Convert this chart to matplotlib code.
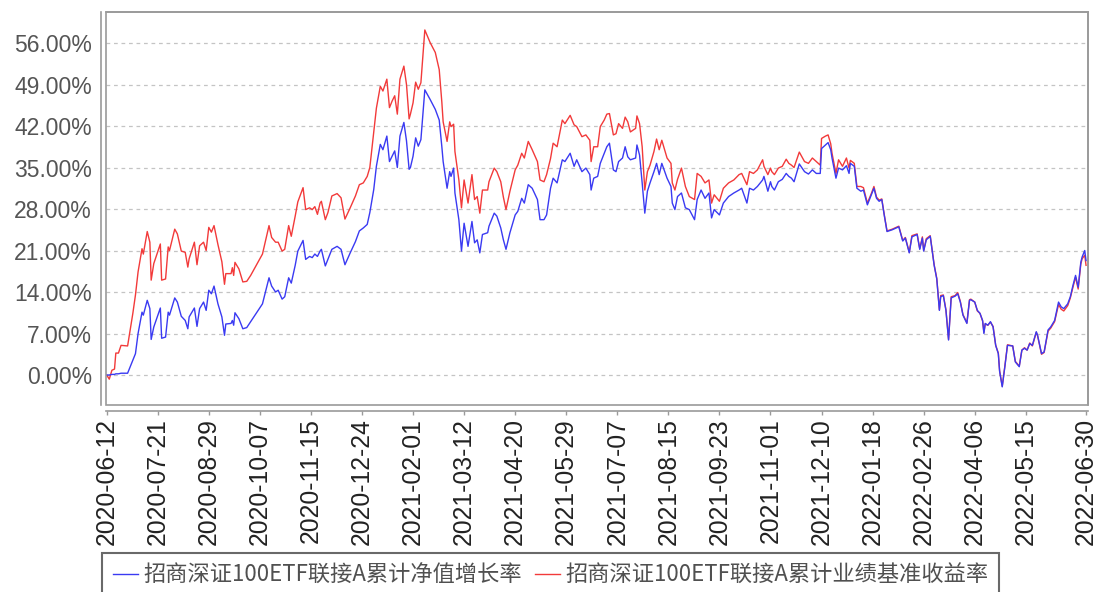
import pandas as pd
import matplotlib
matplotlib.use("Agg")
import matplotlib.pyplot as plt
from matplotlib.patches import Rectangle

# trading dates (sampled from the chart) and cumulative returns in %
dates = [
    "2020-06-12", "2020-06-14", "2020-06-16", "2020-06-18", "2020-06-19", "2020-06-21", "2020-06-23", "2020-06-28",
    "2020-07-02", "2020-07-04", "2020-07-06", "2020-07-09", "2020-07-10", "2020-07-13", "2020-07-15", "2020-07-16",
    "2020-07-18", "2020-07-23", "2020-07-24", "2020-07-27", "2020-07-29", "2020-07-30", "2020-08-03", "2020-08-05",
    "2020-08-08", "2020-08-11", "2020-08-13", "2020-08-14", "2020-08-18", "2020-08-20", "2020-08-22", "2020-08-25",
    "2020-08-27", "2020-08-29", "2020-08-31", "2020-09-02", "2020-09-05", "2020-09-08", "2020-09-10", "2020-09-11",
    "2020-09-15", "2020-09-16", "2020-09-17", "2020-09-18", "2020-09-21", "2020-09-24", "2020-09-27", "2020-09-30",
    "2020-10-09", "2020-10-14", "2020-10-16", "2020-10-19", "2020-10-21", "2020-10-24", "2020-10-26", "2020-10-29",
    "2020-10-31", "2020-11-03", "2020-11-05", "2020-11-09", "2020-11-11", "2020-11-14", "2020-11-16", "2020-11-18",
    "2020-11-20", "2020-11-22", "2020-11-23", "2020-11-26", "2020-11-28", "2020-12-01", "2020-12-05", "2020-12-08",
    "2020-12-11", "2020-12-15", "2020-12-19", "2020-12-22", "2020-12-25", "2020-12-28", "2020-12-30", "2021-01-02",
    "2021-01-04", "2021-01-07", "2021-01-09", "2021-01-12", "2021-01-14", "2021-01-16", "2021-01-18", "2021-01-20",
    "2021-01-22", "2021-01-25", "2021-01-27", "2021-01-29", "2021-01-30", "2021-02-01", "2021-02-03", "2021-02-05",
    "2021-02-07", "2021-02-10", "2021-02-14", "2021-02-18", "2021-02-21", "2021-02-23", "2021-02-24", "2021-02-27",
    "2021-03-01", "2021-03-02", "2021-03-04", "2021-03-05", "2021-03-08", "2021-03-10", "2021-03-12", "2021-03-15",
    "2021-03-18", "2021-03-20", "2021-03-22", "2021-03-24", "2021-03-26", "2021-03-30", "2021-03-31", "2021-04-04",
    "2021-04-06", "2021-04-09", "2021-04-11", "2021-04-13", "2021-04-16", "2021-04-20", "2021-04-22", "2021-04-25",
    "2021-04-27", "2021-04-30", "2021-05-03", "2021-05-07", "2021-05-09", "2021-05-12", "2021-05-14", "2021-05-17",
    "2021-05-19", "2021-05-22", "2021-05-26", "2021-05-28", "2021-06-01", "2021-06-04", "2021-06-06", "2021-06-10",
    "2021-06-13", "2021-06-16", "2021-06-17", "2021-06-19", "2021-06-22", "2021-06-24", "2021-06-27", "2021-06-29",
    "2021-07-01", "2021-07-04", "2021-07-06", "2021-07-08", "2021-07-11", "2021-07-13", "2021-07-15", "2021-07-17",
    "2021-07-21", "2021-07-22", "2021-07-24", "2021-07-26", "2021-07-28", "2021-07-30", "2021-08-01", "2021-08-04",
    "2021-08-06", "2021-08-08", "2021-08-10", "2021-08-14", "2021-08-17", "2021-08-18", "2021-08-20", "2021-08-22",
    "2021-08-25", "2021-08-28", "2021-08-31", "2021-09-04", "2021-09-06", "2021-09-09", "2021-09-12", "2021-09-15",
    "2021-09-17", "2021-09-19", "2021-09-23", "2021-09-26", "2021-09-30", "2021-10-04", "2021-10-08", "2021-10-10",
    "2021-10-14", "2021-10-16", "2021-10-19", "2021-10-22", "2021-10-26", "2021-10-27", "2021-10-30", "2021-11-01",
    "2021-11-02", "2021-11-04", "2021-11-07", "2021-11-10", "2021-11-13", "2021-11-15", "2021-11-17", "2021-11-19",
    "2021-11-23", "2021-11-27", "2021-11-30", "2021-12-03", "2021-12-06", "2021-12-09", "2021-12-10", "2021-12-13",
    "2021-12-15", "2021-12-17", "2021-12-18", "2021-12-21", "2021-12-23", "2021-12-26", "2021-12-29", "2021-12-31",
    "2022-01-01", "2022-01-04", "2022-01-06", "2022-01-09", "2022-01-11", "2022-01-14", "2022-01-17", "2022-01-19",
    "2022-01-21", "2022-01-23", "2022-01-25", "2022-01-27", "2022-01-29", "2022-02-02", "2022-02-07", "2022-02-10",
    "2022-02-12", "2022-02-15", "2022-02-17", "2022-02-21", "2022-02-23", "2022-02-25", "2022-02-26", "2022-02-28",
    "2022-03-03", "2022-03-06", "2022-03-08", "2022-03-10", "2022-03-11", "2022-03-13", "2022-03-15", "2022-03-17",
    "2022-03-19", "2022-03-22", "2022-03-24", "2022-03-26", "2022-03-28", "2022-03-31", "2022-04-02", "2022-04-03",
    "2022-04-06", "2022-04-08", "2022-04-10", "2022-04-12", "2022-04-13", "2022-04-14", "2022-04-16", "2022-04-18",
    "2022-04-20", "2022-04-22", "2022-04-24", "2022-04-25", "2022-04-27", "2022-04-29", "2022-05-01", "2022-05-05",
    "2022-05-07", "2022-05-10", "2022-05-12", "2022-05-14", "2022-05-16", "2022-05-18", "2022-05-20", "2022-05-23",
    "2022-05-24", "2022-05-27", "2022-05-29", "2022-06-01", "2022-06-03", "2022-06-06", "2022-06-09", "2022-06-11",
    "2022-06-13", "2022-06-16", "2022-06-18", "2022-06-20", "2022-06-22", "2022-06-24", "2022-06-26", "2022-06-27",
    "2022-06-29", "2022-06-30",
]

nav_growth = [
    0.0, 0.0, 0.1, 0.1, 0.2, 0.2, 0.3, 0.3,
    2.5, 3.6, 7.0, 10.6, 10.1, 12.6, 11.2, 6.0,
    8.1, 11.3, 6.2, 6.4, 10.6, 10.1, 13.0, 12.3,
    9.9, 9.2, 7.8, 9.8, 11.3, 8.2, 11.2, 12.3,
    10.9, 14.3, 13.7, 15.0, 12.0, 9.8, 6.7, 8.6,
    8.7, 9.2, 8.4, 10.5, 9.5, 7.8, 8.0, 9.0,
    12.0, 16.4, 15.0, 14.0, 14.3, 12.8, 13.2, 16.4,
    15.5, 18.5, 20.9, 22.7, 19.5, 20.0, 19.8, 20.4,
    20.0, 20.9, 21.2, 18.4, 19.5, 21.2, 21.7, 21.2,
    18.6, 20.6, 22.5, 24.3, 24.8, 25.4, 27.4, 31.3,
    35.2, 38.9, 38.0, 40.3, 36.0, 36.9, 37.8, 35.0,
    40.3, 42.6, 39.5, 34.7, 35.0, 36.9, 40.0, 38.6,
    39.7, 48.1, 46.5, 44.8, 43.0, 38.5, 36.0, 31.5,
    34.3, 33.5, 34.9, 30.7, 26.2, 20.9, 25.6, 21.7,
    25.9, 22.3, 22.8, 20.6, 23.7, 24.0, 25.1, 27.3,
    26.8, 24.8, 22.8, 21.2, 24.0, 27.0, 27.6, 29.8,
    29.0, 32.1, 31.5, 29.6, 26.2, 26.2, 27.0, 31.5,
    33.2, 32.4, 36.3, 36.0, 37.4, 35.2, 36.3, 34.3,
    34.9, 33.8, 31.2, 33.2, 33.5, 35.7, 37.4, 38.5,
    39.1, 34.6, 34.3, 36.0, 36.6, 38.5, 36.8, 36.3,
    36.6, 38.8, 37.1, 32.4, 27.3, 31.0, 32.4, 34.3,
    35.7, 33.8, 35.7, 33.2, 31.8, 29.0, 27.9, 30.1,
    30.7, 28.2, 27.9, 26.2, 29.6, 31.2, 29.8, 30.7,
    26.5, 27.9, 27.0, 29.0, 30.1, 30.7, 31.2, 31.5,
    29.0, 31.5, 31.2, 31.8, 32.9, 33.5, 31.0, 32.6,
    31.8, 31.2, 32.6, 33.0, 34.0, 33.5, 33.2, 32.6,
    35.6, 34.3, 33.9, 34.6, 34.0, 34.0, 38.2, 38.8,
    39.2, 38.0, 36.6, 33.2, 34.9, 34.6, 35.3, 34.0,
    35.7, 35.2, 31.5, 31.0, 31.2, 28.7, 30.4, 31.5,
    29.8, 29.3, 29.6, 26.8, 24.2, 24.5, 25.0, 22.6,
    23.1, 20.6, 23.3, 23.7, 21.2, 23.1, 20.9, 22.8,
    23.4, 18.5, 16.2, 10.9, 13.2, 13.4, 10.9, 5.9,
    13.0, 13.3, 13.7, 12.3, 10.1, 8.7, 12.6, 12.7,
    12.3, 10.9, 10.4, 9.2, 7.0, 8.7, 8.4, 9.0,
    8.1, 5.0, 3.6, 0.6, -2.0, 1.4, 5.0, 4.9,
    2.2, 1.4, 4.2, 4.5, 4.2, 5.3, 5.0, 7.3,
    6.7, 3.6, 3.9, 7.6, 8.1, 9.2, 12.3, 11.5,
    11.2, 12.0, 13.2, 15.1, 16.8, 14.8, 19.0, 19.9,
    21.0, 19.3,
]

benchmark = [
    0.0, -0.7, 0.8, 1.0, 3.7, 3.7, 5.0, 4.9,
    10.4, 13.5, 17.4, 21.3, 20.4, 24.2, 22.4, 16.0,
    18.8, 22.1, 16.0, 16.2, 21.6, 21.0, 24.6, 23.8,
    20.9, 20.7, 18.2, 19.6, 22.4, 18.6, 21.8, 22.4,
    21.0, 24.9, 24.1, 25.2, 22.0, 19.1, 15.3, 17.1,
    17.1, 18.1, 16.8, 19.0, 17.9, 15.7, 15.8, 16.8,
    20.4, 25.2, 23.2, 22.4, 22.4, 20.9, 21.2, 25.2,
    23.4, 26.8, 29.2, 31.6, 27.9, 28.2, 27.9, 28.4,
    27.1, 29.0, 29.3, 26.2, 27.4, 30.2, 30.6, 29.9,
    26.3, 28.2, 30.2, 32.1, 32.4, 33.5, 35.0, 40.9,
    45.0, 48.7, 47.9, 49.9, 45.1, 46.2, 47.1, 44.0,
    49.9, 52.1, 49.0, 43.2, 44.0, 45.9, 49.4, 48.2,
    49.3, 58.2, 56.1, 54.4, 51.5, 46.0, 42.7, 39.4,
    42.7, 41.9, 42.3, 37.7, 32.9, 28.2, 32.9, 29.0,
    33.8, 29.6, 30.1, 27.3, 31.2, 31.2, 32.6, 34.9,
    34.3, 32.6, 30.0, 27.9, 31.0, 34.6, 35.4, 37.4,
    36.6, 39.4, 38.0, 36.0, 32.9, 32.6, 33.8, 36.5,
    39.1, 38.5, 43.0, 42.4, 43.8, 42.2, 41.9, 40.2,
    40.5, 39.6, 36.0, 38.5, 38.5, 41.9, 43.0, 44.0,
    44.1, 40.5, 40.7, 42.4, 41.6, 43.5, 42.7, 41.0,
    41.6, 43.7, 42.4, 38.5, 31.2, 34.3, 35.4, 37.7,
    39.8, 38.0, 39.6, 36.6, 35.7, 32.4, 31.2, 33.0,
    34.9, 31.8, 30.1, 29.6, 34.0, 33.5, 32.4, 32.9,
    29.0, 30.4, 29.3, 31.5, 32.4, 32.9, 33.8, 34.0,
    32.1, 34.3, 34.0, 34.6, 36.3, 35.2, 33.8, 34.9,
    34.3, 33.8, 34.9, 35.2, 36.4, 35.7, 35.4, 35.0,
    37.6, 36.0, 35.7, 36.6, 36.0, 35.4, 39.9, 40.3,
    40.5, 39.0, 37.4, 34.0, 36.3, 35.2, 36.6, 34.9,
    36.2, 35.7, 31.8, 31.8, 31.6, 29.0, 30.6, 31.8,
    30.0, 29.5, 29.7, 26.9, 24.3, 24.6, 25.1, 22.7,
    23.2, 20.7, 23.5, 23.8, 21.3, 23.3, 21.0, 23.0,
    23.5, 18.6, 16.3, 11.0, 13.4, 13.5, 11.0, 6.0,
    13.2, 13.4, 13.9, 12.4, 10.2, 8.8, 12.7, 12.8,
    12.3, 10.8, 10.4, 9.1, 7.2, 8.6, 8.4, 8.9,
    8.2, 5.0, 3.7, 0.7, -1.9, 1.5, 5.1, 4.9,
    2.3, 1.5, 4.2, 4.6, 4.2, 5.4, 4.9, 7.2,
    6.6, 3.5, 3.8, 7.4, 7.9, 9.0, 11.9, 11.1,
    10.8, 11.7, 13.0, 14.8, 16.5, 14.5, 18.7, 19.6,
    20.2, 18.5,
]

tick_dates = [
    "2020-06-12", "2020-07-21", "2020-08-29", "2020-10-07", "2020-11-15", "2020-12-24",
    "2021-02-01", "2021-03-12", "2021-04-20", "2021-05-29", "2021-07-07", "2021-08-15",
    "2021-09-23", "2021-11-01", "2021-12-10", "2022-01-18", "2022-02-26", "2022-04-06",
    "2022-05-15", "2022-06-30",
]
y_ticks = [0, 7, 14, 21, 28, 35, 42, 49, 56]

name_nav = "招商深证100ETF联接A累计净值增长率"
name_bench = "招商深证100ETF联接A累计业绩基准收益率"

x = pd.to_datetime(dates)
xt = pd.to_datetime(tick_dates)

fig = plt.figure(figsize=(10.98, 5.92), dpi=100)
ax = fig.add_axes([106 / 1098, 187 / 592, 982 / 1098, 393 / 592])

ax.plot(x, nav_growth, color="#3a3af2", lw=1.0, label=name_nav, zorder=4)
ax.plot(x, benchmark, color="#f23a3a", lw=1.0, label=name_bench, zorder=3)

ax.set_xlim(xt[0] - pd.Timedelta(days=0.5), xt[-1] + pd.Timedelta(days=1.5))
ax.set_ylim(-5.06, 61.23)

ax.set_yticks(y_ticks)
ax.set_yticklabels([f"{v:.2f}%" for v in y_ticks])
ax.set_xticks(xt)
ax.set_xticklabels(tick_dates)

ax.grid(axis="y", color="#c4c4c4", linestyle=(0, (3, 3)), linewidth=0.9)
ax.set_axisbelow(True)

# inner frame plus offset axis lines
for s in ["top", "right", "left", "bottom"]:
    ax.spines[s].set_color("#9a9a9a")
    ax.spines[s].set_linewidth(1.2)
ax.spines["left"].set_position(("outward", 3.6))
ax.spines["bottom"].set_position(("outward", 4.3))
ax.add_patch(Rectangle((0, 0), 1, 1, transform=ax.transAxes, fill=False,
                       edgecolor="#9a9a9a", linewidth=1.2, clip_on=False, zorder=5))

ax.tick_params(axis="y", length=0, pad=6.5, labelsize=16.5, labelcolor="#555555")
ax.tick_params(axis="x", length=3, width=1, color="#9a9a9a", pad=2,
               labelsize=17.8, labelcolor="#222222", labelrotation=90)
for lab in ax.get_xticklabels() + ax.get_yticklabels():
    lab.set_fontfamily("Liberation Sans")

leg = fig.legend(loc="upper left", bbox_to_anchor=(102 / 1098, 1 - 553 / 592),
                 ncol=2, frameon=True, fancybox=False, edgecolor="#444444",
                 prop={"family": ["Noto Sans CJK SC", "DejaVu Sans"], "size": 16},
                 labelcolor="#505050", handlelength=1.1, handletextpad=0.25,
                 columnspacing=0.6, borderpad=0.5, borderaxespad=0)
leg.get_frame().set_linewidth(1.5)

fig.savefig("out.png", dpi=100)
